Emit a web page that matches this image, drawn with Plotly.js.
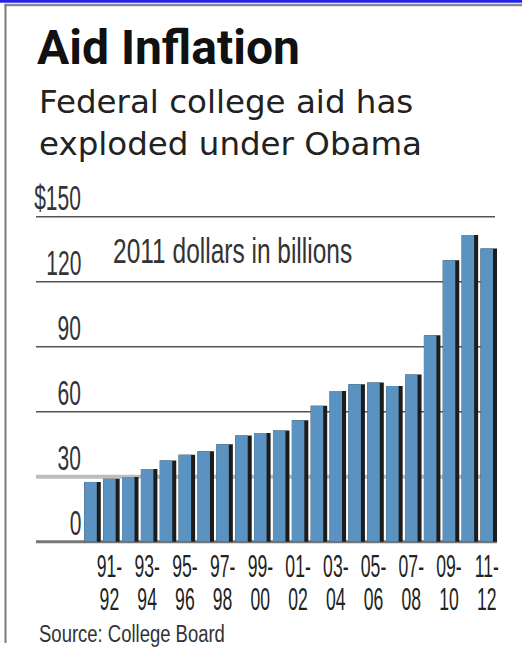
<!DOCTYPE html>
<html>
<head>
<meta charset="utf-8">
<script src="https://cdn.plot.ly/plotly-3.0.1.min.js"></script>
<style>
  html, body { margin: 0; padding: 0; background: #fff; }
  #chart { width: 522px; height: 655px; }
</style>
</head>
<body>
<div id="chart"></div>
<script>
// ---- data ----
const years = ["90-91","91-92","92-93","93-94","94-95","95-96","96-97","97-98","98-99","99-00",
               "00-01","01-02","02-03","03-04","04-05","05-06","06-07","07-08","08-09","09-10",
               "10-11","11-12"];
const aidBillions = [27.6, 29.0, 29.9, 33.6, 37.5, 40.1, 41.8, 45.0, 49.0, 50.2,
                     51.3, 56.1, 62.7, 69.6, 72.7, 73.5, 71.9, 77.2, 95.3, 129.9,
                     141.5, 135.3];
const labeledYears = ["91-92","93-94","95-96","97-98","99-00","01-02","03-04","05-06","07-08","09-10","11-12"];
const xTickLabels = ["91-<br>92","93-<br>94","95-<br>96","97-<br>98","99-<br>00","01-<br>02",
                     "03-<br>04","05-<br>06","07-<br>08","09-<br>10","11-<br>12"];
const yTicks = [0, 30, 60, 90, 120, 150];
const yTickLabels = ["0", "30", "60", "90", "120", "$150"];

// ---- geometry helpers (pixels -> paper) ----
const L = 36, R = 497, T = 212, B = 544;
const W = 522, H = 655;
const px = x => (x - L) / (R - L);
const py = y => (B - y) / (B - T);

const COND = "Liberation Sans, Arial, sans-serif";

const idx = years.map((_, i) => i);
const tickIdx = labeledYears.map(y => years.indexOf(y));

const shadow = {
  type: 'bar', x: idx, y: aidBillions,
  width: 0.874, offset: -0.331,
  marker: { color: '#1c1c1c', line: { width: 0 } },
  hoverinfo: 'skip', showlegend: false
};
const bars = {
  type: 'bar', x: idx, y: aidBillions,
  width: 0.662, offset: -0.331,
  marker: { color: '#5a93c1', line: { width: 0 } },
  showlegend: false
};

const shapes = [];
yTicks.forEach(v => {
  let style = { color: '#555', width: 1.5 };
  let x1 = px(495);
  if (v === 0) { style = { color: '#777', width: 3 }; x1 = 1; }
  else if (v === 30) { style = { color: '#bdbdbd', width: 4 }; }
  shapes.push({ type: 'line', layer: 'below', xref: 'paper', yref: 'y',
                x0: 0, x1: x1, y0: v, y1: v, line: style });
});
// frame
shapes.push({ type: 'rect', xref: 'paper', yref: 'paper', x0: px(0), x1: px(W), y0: py(0), y1: py(2.7),
              fillcolor: '#2424e6', line: { width: 0 } });
shapes.push({ type: 'line', xref: 'paper', yref: 'paper', x0: px(4.5), x1: px(W), y0: py(5), y1: py(5),
              line: { color: '#8a8a8a', width: 2.5 } });
shapes.push({ type: 'line', xref: 'paper', yref: 'paper', x0: px(5.5), x1: px(5.5), y0: py(4), y1: py(643),
              line: { color: '#7a7a7a', width: 2 } });

// annotations + horizontal condensing factor for each (1 = none)
const annotations = [];
const squeeze = [];
function addAnn(a, s) { annotations.push(a); squeeze.push(s); }

addAnn({ text: '<b>Aid Inflation</b>', xref: 'paper', yref: 'paper', x: px(35), y: py(47),
  xanchor: 'left', yanchor: 'middle', showarrow: false,
  font: { family: 'Roboto, sans-serif', size: 48, color: '#111' } }, 1);
addAnn({ text: 'Federal college aid has<br>exploded under Obama', xref: 'paper', yref: 'paper',
  x: px(37), y: py(123), xanchor: 'left', yanchor: 'middle', align: 'left', showarrow: false,
  font: { family: 'DejaVu Sans, sans-serif', size: 32.5, color: '#222' } }, 1);
addAnn({ text: '2011 dollars in billions', xref: 'paper', yref: 'paper',
  x: px(111), y: py(250), xanchor: 'left', yanchor: 'middle', showarrow: false,
  font: { family: COND, size: 35, color: '#333' } }, 0.70);
addAnn({ text: 'Source: College Board', xref: 'paper', yref: 'paper',
  x: px(37), y: py(633), xanchor: 'left', yanchor: 'middle', showarrow: false,
  font: { family: COND, size: 24, color: '#333' } }, 0.77);
yTicks.forEach((v, i) => {
  addAnn({ text: yTickLabels[i], xref: 'paper', yref: 'y', x: px(83), y: v,
    xanchor: 'right', yanchor: 'bottom', yshift: -2, showarrow: false,
    font: { family: COND, size: 35, color: '#333' } }, 0.6);
});

const layout = {
  width: W, height: H,
  margin: { l: L, r: W - R, t: T, b: H - B, pad: 0 },
  paper_bgcolor: '#fff', plot_bgcolor: 'rgba(0,0,0,0)',
  barmode: 'overlay',
  showlegend: false,
  xaxis: {
    range: [-2.891, 21.543], tickmode: 'array', tickvals: tickIdx, ticktext: xTickLabels,
    tickangle: 0, automargin: false,
    showgrid: false, zeroline: false, showline: false, ticks: '',
    tickfont: { family: COND, size: 32, color: '#222' }, fixedrange: true
  },
  yaxis: {
    range: [-1.06, 152.17], showgrid: false, zeroline: false, showline: false,
    showticklabels: false, ticks: '', fixedrange: true
  },
  shapes: shapes,
  annotations: annotations
};

function condense(el, sx, where) {
  const bb = el.getBBox();
  const cx = where === 'left' ? bb.x : where === 'right' ? bb.x + bb.width : bb.x + bb.width / 2;
  const prev = el.getAttribute('transform') || '';
  el.setAttribute('transform', prev + ' translate(' + cx + ',0) scale(' + sx + ',1) translate(' + (-cx) + ',0)');
}

Plotly.newPlot('chart', [shadow, bars], layout, { displayModeBar: false, staticPlot: true }).then(gd => {
  // condensed x tick labels, tighter line spacing
  gd.querySelectorAll('.xtick text').forEach(t => {
    t.querySelectorAll('tspan.line').forEach(ts => {
      const dy = ts.getAttribute('dy');
      if (dy && parseFloat(dy) !== 0) ts.setAttribute('dy', '1.03em');
    });
    condense(t, 0.55, 'center');
  });
  gd.querySelectorAll('g.annotation').forEach(g => {
    const i = +g.getAttribute('data-index');
    const s = squeeze[i];
    if (s && s !== 1) {
      const t = g.querySelector('text.annotation-text');
      if (t) condense(t, s, annotations[i].xanchor);
    }
  });
});
</script>
</body>
</html>
